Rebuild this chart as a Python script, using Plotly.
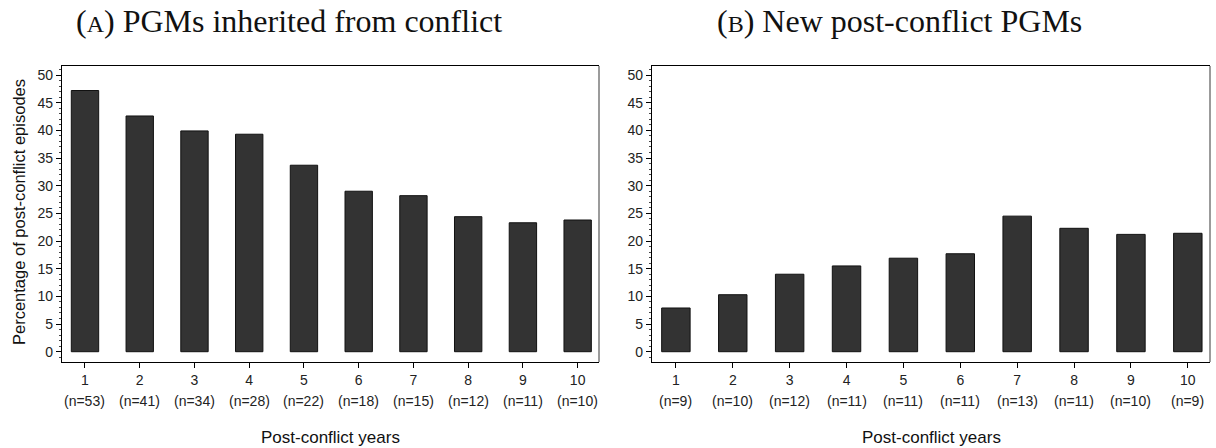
import plotly.graph_objects as go

# Post-conflict years and the number of episodes observed in each year
years = [1, 2, 3, 4, 5, 6, 7, 8, 9, 10]
n_inherited = [53, 41, 34, 28, 22, 18, 15, 12, 11, 10]
n_new = [9, 10, 12, 11, 11, 11, 13, 11, 10, 9]

# Percentage of post-conflict episodes with PGMs present
pct_inherited = [47.2, 42.6, 39.9, 39.3, 33.7, 29.0, 28.2, 24.4, 23.3, 23.8]
pct_new = [7.9, 10.3, 14.0, 15.5, 16.9, 17.7, 24.5, 22.3, 21.2, 21.4]

y_ticks = [0, 5, 10, 15, 20, 25, 30, 35, 40, 45, 50]

W, H = 1216, 448
BAR_FILL = "#333333"
SANS = "Liberation Sans, Arial, sans-serif"
SERIF = "Liberation Serif, Times New Roman, serif"

fig = go.Figure()

panels = [
    dict(x="x", y="y", vals=pct_inherited, ns=n_inherited,
         dom=[62 / W, 599 / W]),
    dict(x="x2", y="y2", vals=pct_new, ns=n_new,
         dom=[652 / W, 1210 / W]),
]

y_dom = [(H - 362) / H, (H - 66) / H]

for p in panels:
    fig.add_trace(go.Bar(
        x=years, y=p["vals"], xaxis=p["x"], yaxis=p["y"],
        width=0.5, marker=dict(color=BAR_FILL, line=dict(color="#111111", width=1)),
        showlegend=False, hoverinfo="x+y",
    ))

axis_common_x = dict(
    range=[0.58, 10.39], tickmode="array", tickvals=years,
    ticktext=[str(v) for v in years],
    ticks="outside", ticklen=5, tickwidth=1, tickcolor="#000",
    showline=True, linecolor="#000", linewidth=1.2, mirror=True,
    showgrid=False, zeroline=False,
    tickfont=dict(family=SANS, size=14, color="#222"),
    fixedrange=True,
)
axis_common_y = dict(
    range=[-1.86, 51.63], tickmode="array", tickvals=y_ticks,
    ticks="outside", ticklen=5, tickwidth=1, tickcolor="#000",
    minor=dict(dtick=1, ticks="outside", ticklen=2, tickwidth=1, tickcolor="#444"),
    showline=True, linecolor="#000", linewidth=1.2, mirror=False,
    showgrid=False, zeroline=False,
    tickfont=dict(family=SANS, size=14, color="#222"),
    domain=y_dom, fixedrange=True,
)

fig.update_layout(
    xaxis=dict(axis_common_x, domain=panels[0]["dom"], anchor="y"),
    yaxis=dict(axis_common_y, anchor="x"),
    xaxis2=dict(axis_common_x, domain=panels[1]["dom"], anchor="y2"),
    yaxis2=dict(axis_common_y, anchor="x2"),
)

shapes = []
annotations = []
for p in panels:
    # right edge of the frame, drawn in grey
    shapes.append(dict(type="line", xref="paper", yref="paper",
                       x0=p["dom"][1], x1=p["dom"][1], y0=y_dom[0], y1=y_dom[1],
                       line=dict(color="#7a7a7a", width=1.5)))
    for yr, n in zip(years, p["ns"]):
        annotations.append(dict(
            x=yr, xref=p["x"], y=(H - 401) / H, yref="paper",
            text=f"(n={n})", showarrow=False, xanchor="center", yanchor="middle",
            font=dict(family=SANS, size=14, color="#222"),
        ))
    annotations.append(dict(
        x=(p["dom"][0] + p["dom"][1]) / 2, xref="paper", y=(H - 437) / H, yref="paper",
        text="Post-conflict years", showarrow=False, xanchor="center", yanchor="middle",
        font=dict(family=SANS, size=17, color="#111"),
    ))

annotations.append(dict(
    x=19 / W, xref="paper", y=(H - 212) / H, yref="paper",
    text="Percentage of post-conflict episodes", textangle=-90, showarrow=False,
    xanchor="center", yanchor="middle",
    font=dict(family=SANS, size=16.5, color="#111"),
))

annotations.append(dict(
    x=289 / W, xref="paper", y=(H - 21) / H, yref="paper",
    text="(<span style='font-size:24px'>A</span>) PGMs inherited from conflict",
    showarrow=False, xanchor="center", yanchor="middle",
    font=dict(family=SERIF, size=32, color="#111"),
))
annotations.append(dict(
    x=899 / W, xref="paper", y=(H - 21) / H, yref="paper",
    text="(<span style='font-size:24px'>B</span>) New post-conflict PGMs",
    showarrow=False, xanchor="center", yanchor="middle",
    font=dict(family=SERIF, size=32, color="#111"),
))

fig.update_layout(
    width=W, height=H,
    margin=dict(l=0, r=0, t=0, b=0),
    paper_bgcolor="white", plot_bgcolor="white",
    bargap=0.5,
    shapes=shapes, annotations=annotations,
)

fig.write_html("out.html")
